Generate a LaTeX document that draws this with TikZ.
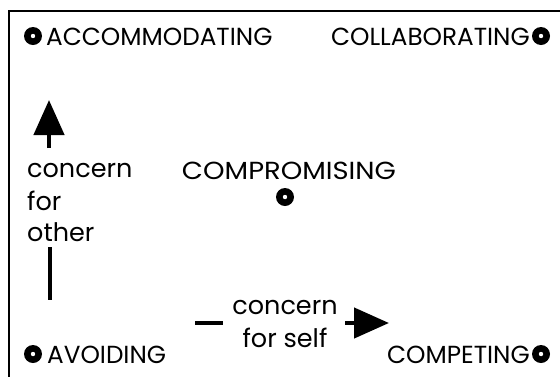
\documentclass[tikz,border=0pt]{standalone}
\usepackage{fontspec}
\usepackage{graphicx}
\setmainfont{Poppins}
\usetikzlibrary{arrows.meta}
\begin{document}
\begin{tikzpicture}[x=1pt,y=-1pt,
  lbl/.style={inner sep=0pt,font=\fontsize{24.7}{28}\selectfont},
  lowlbl/.style={inner sep=0pt,font=\fontsize{25.5}{28}\selectfont},
  bullet/.style={circle,fill=black,minimum size=18pt,inner sep=0pt,path picture={\fill[white] (path picture bounding box.center) circle (2.2pt);}},
  frameline/.style={line width=2.2pt},
  shaft/.style={line width=4.5pt},
  bigarrow/.style={shaft,-{Triangle[length=35pt,width=30pt]}}
]
\useasboundingbox (0,0) rectangle (560,376);
\draw[frameline] (9,380) -- (9,11) -- (565,11);
% corners
\node[bullet] (b1) at (33,36) {};
\node[lbl,anchor=west] (acc) at (46,37) {ACCOMMODATING};
\node[bullet] (b2) at (541,36) {};
\node[lbl,anchor=east] (col) at (530,37) {COLLABORATING};
\node[lbl] (comp) at (289,171) {\resizebox{214pt}{\height}{COMPROMISING}};
\node[bullet] (b3) at (285,197) {};
\node[bullet] (b4) at (33,354) {};
\node[lbl,anchor=west] (avo) at (47,355) {AVOIDING};
\node[bullet] (b5) at (541,354) {};
\node[lbl,anchor=east] (cpt) at (530,355) {COMPETING};
% concern for other
\node[lowlbl,anchor=west] (co1) at (27,170) {concern};
\node[lowlbl,anchor=west] (co2) at (27,201) {for};
\node[lowlbl,anchor=west] (co3) at (27,232) {other};
\coordinate (upa) at (49,148);
\coordinate (upb) at (49,100);
\draw[bigarrow] (upa) -- (upb);
\coordinate (lowa) at (50,247);
\coordinate (lowb) at (50,300);
\draw[shaft] (lowa) -- (lowb);
% concern for self
\node[lowlbl] (cs1) at (285,307) {concern};
\node[lowlbl] (cs2) at (285,338) {for self};
\coordinate (da) at (195,323);
\coordinate (db) at (223,323);
\draw[shaft] (da) -- (db);
\coordinate (ra) at (345,323);
\coordinate (rb) at (389,323);
\draw[bigarrow] (ra) -- (rb);
\end{tikzpicture}
\end{document}
